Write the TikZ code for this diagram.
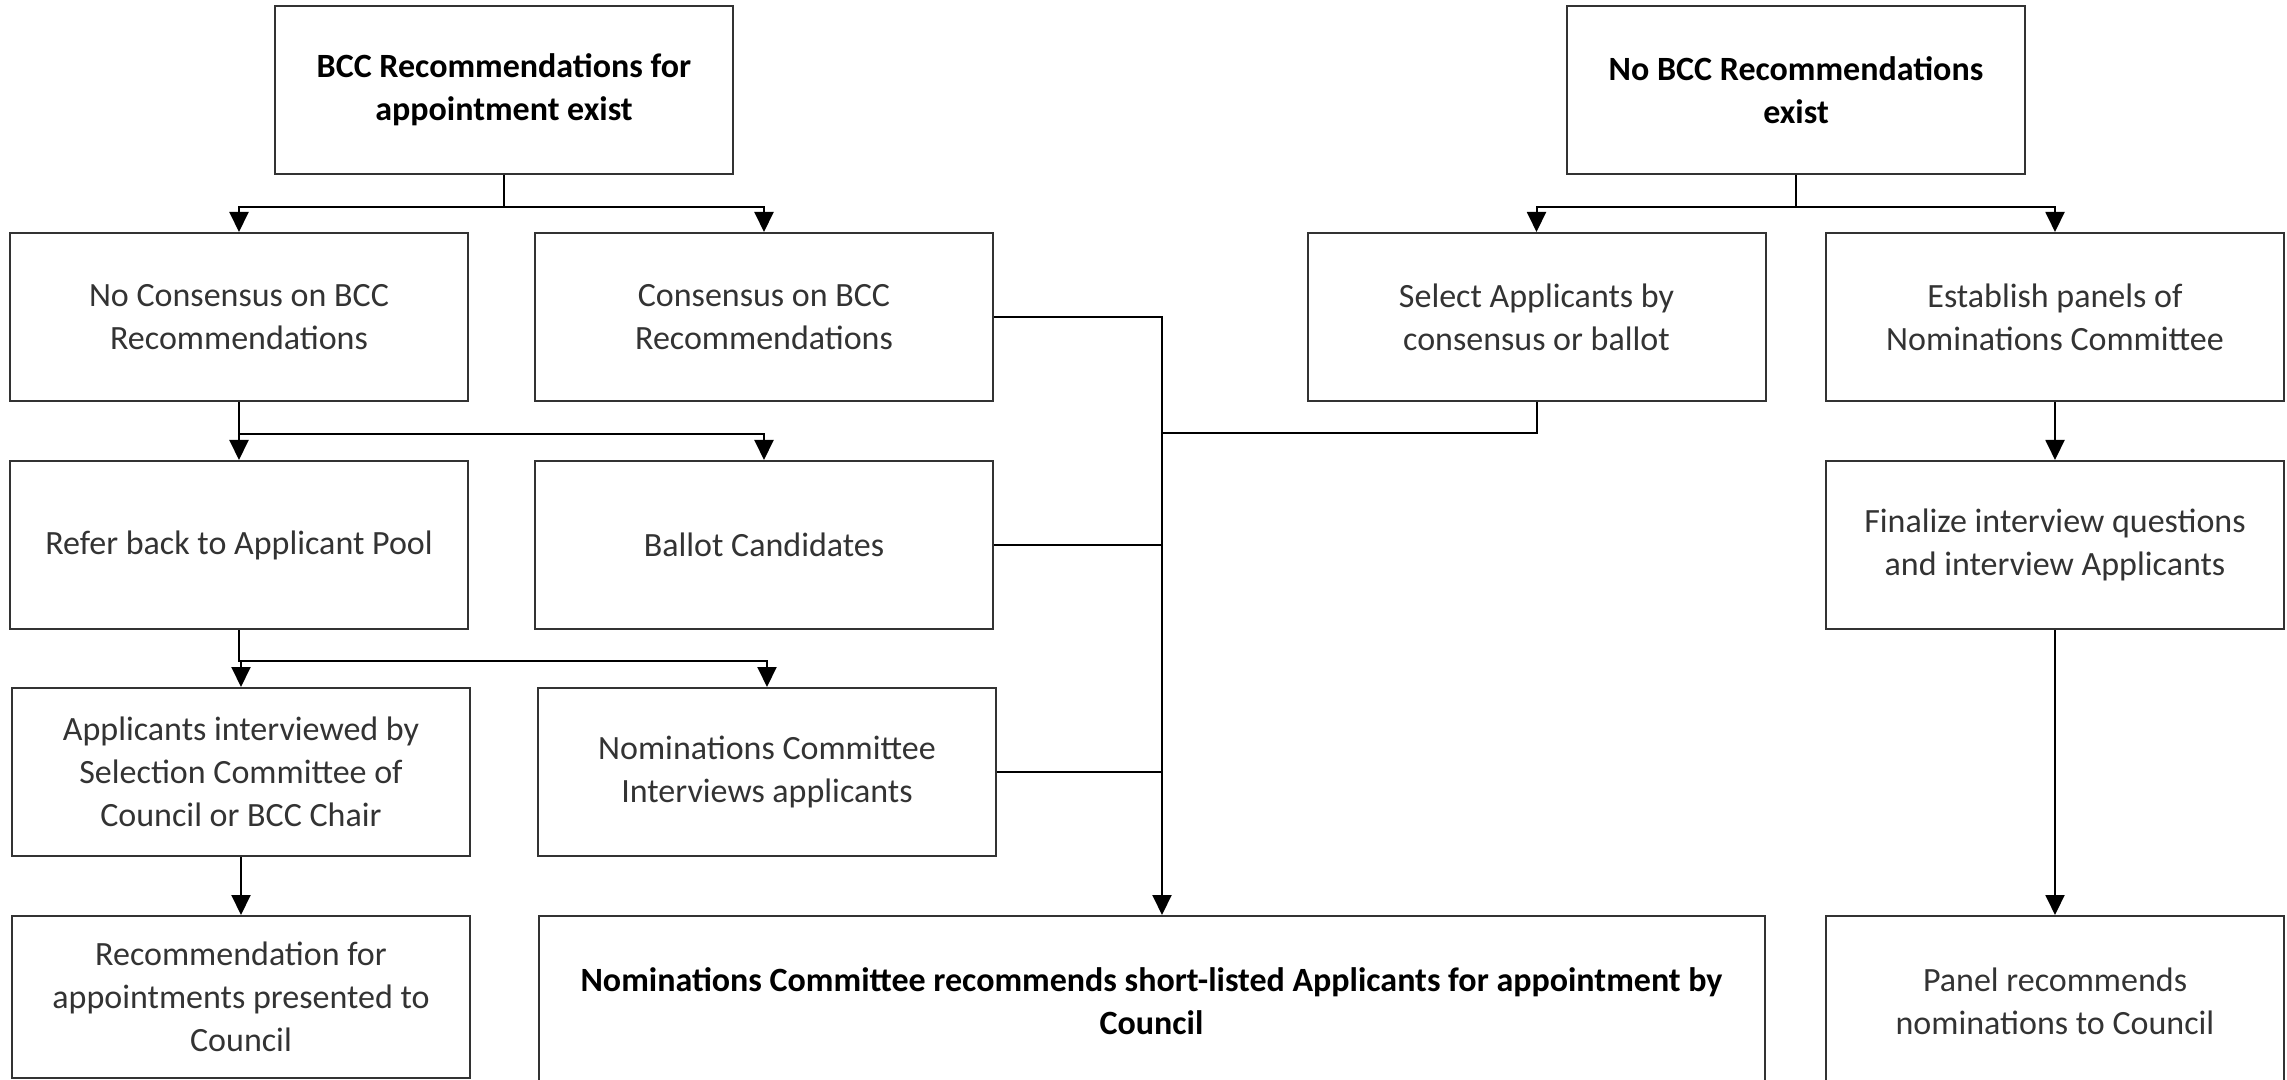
\documentclass[tikz,border=0pt]{standalone}
\usepackage{fontspec}
\setmainfont{Carlito}
\usetikzlibrary{arrows.meta,positioning}

\tikzset{
  stepbox/.style={draw=black!80, line width=1pt, minimum width=229pt, minimum height=84pt,
    inner sep=0pt, align=center, text=black!80, font=\fontsize{17}{21.5}\selectfont},
  headbox/.style={stepbox, text=black, font=\fontsize{17}{21.5}\selectfont\bfseries},
  link/.style={draw=black, line width=1pt},
  linkarr/.style={link, -{Triangle[length=10pt,width=9.5pt]}},
}

\begin{document}
\begin{tikzpicture}[x=0.5pt,y=0.5pt,yscale=-1,xscale=1]
\useasboundingbox (0,0) rectangle (2287,1080);

%Boxes: two starting cases
\node[headbox] (bccyes) at (504,90) {BCC Recommendations for\\appointment exist};
\node[headbox] (bccno) at (1796,90) {No BCC Recommendations\\exist};

%Boxes: second row
\node[stepbox] (nocons) at (239,317) {No Consensus on BCC\\Recommendations};
\node[stepbox] (cons) at (764,317) {Consensus on BCC\\Recommendations};
\node[stepbox] (select) at (1536.5,317) {Select Applicants by\\consensus or ballot};
\node[stepbox] (panels) at (2055,317) {Establish panels of\\Nominations Committee};

%Boxes: third row
\node[stepbox] (refer) at (239,545) {Refer back to Applicant Pool};
\node[stepbox] (ballot) at (764,545) {Ballot Candidates};
\node[stepbox] (finalize) at (2055,545) {Finalize interview questions\\and interview Applicants};

%Boxes: fourth row
\node[stepbox] (interviewed) at (241,772) {Applicants interviewed by\\Selection Committee of\\Council or BCC Chair};
\node[stepbox] (nomint) at (767,772) {Nominations Committee\\Interviews applicants};

%Boxes: results
\node[stepbox, minimum height=81pt] (presented) at (241,997) {Recommendation for\\appointments presented to\\Council};
\node[headbox, minimum width=613pt, minimum height=85pt] (shortlist) at (1151.5,1001) {Nominations Committee recommends short-listed Applicants for appointment by\\Council};
\node[stepbox, minimum height=85pt] (panelrec) at (2055,1001) {Panel recommends\\nominations to Council};

%Merge line into the short list
\coordinate (mx) at (1162,0);
\coordinate (mjoin) at (1162,433);

%Split lines
\draw[linkarr] (bccyes.south) -- ++(0,32) -| (nocons.north);
\draw[linkarr] (bccyes.south) -- ++(0,32) -| (cons.north);
\draw[linkarr] (bccno.south) -- ++(0,32) -| (select.north);
\draw[linkarr] (bccno.south) -- ++(0,32) -| (panels.north);
\draw[linkarr] (nocons.south) -- ++(0,32) -| (refer.north);
\draw[linkarr] (nocons.south) -- ++(0,32) -| (ballot.north);
\draw[linkarr] (refer.south) -- ++(0,31) -| (interviewed.north);
\draw[linkarr] (refer.south) -- ++(0,31) -| (nomint.north);
\draw[linkarr] (interviewed.south) -- (presented.north);

%Straight Lines into the merge
\draw[linkarr] (cons.east) -| (mx |- shortlist.north);
\draw[link] (select.south) |- (mjoin);
\draw[link] (ballot.east) -- (ballot.east -| mx);
\draw[link] (nomint.east) -- (nomint.east -| mx);

%Panel branch
\draw[linkarr] (panels.south) -- (finalize.north);
\draw[linkarr] (finalize.south) -- (panelrec.north);

\end{tikzpicture}
\end{document}
